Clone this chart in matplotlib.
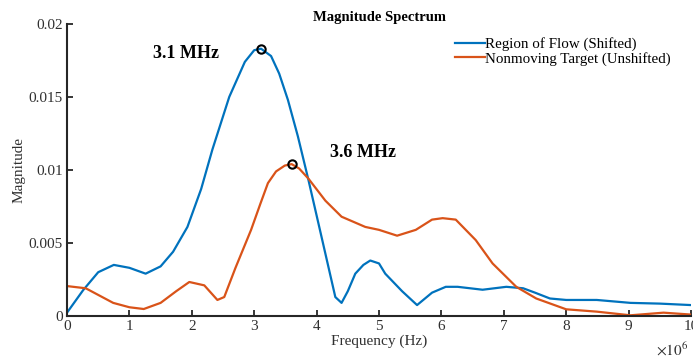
import matplotlib.pyplot as plt
import numpy as np

# частоты (МГц) и амплитуды
freq_flow = [0.0, 0.26, 0.5, 0.75, 1.0, 1.26, 1.5, 1.7, 1.93, 2.15, 2.33, 2.6, 2.85, 3.0, 3.11,
             3.27, 3.4, 3.54, 3.7, 3.87, 4.08, 4.3, 4.4, 4.5, 4.62, 4.75, 4.86, 5.0, 5.1, 5.37,
             5.61, 5.85, 6.07, 6.26, 6.66, 7.04, 7.31, 7.5, 7.74, 8.0, 8.49, 9.03, 9.5, 10.0]
mag_flow = [0.00023, 0.00178, 0.0030, 0.0035, 0.0033, 0.0029, 0.0034, 0.0044, 0.0061, 0.0087,
            0.0114, 0.0150, 0.0174, 0.0182, 0.0183, 0.0178, 0.0166, 0.0148, 0.0123, 0.0093,
            0.0054, 0.0013, 0.0009, 0.0017, 0.0029, 0.0035, 0.0038, 0.0036, 0.0029, 0.0017,
            0.00075, 0.0016, 0.0020, 0.0020, 0.0018, 0.0020, 0.0019, 0.0016, 0.0012, 0.0011,
            0.0011, 0.0009, 0.00085, 0.00075]

freq_static = [0.0, 0.3, 0.74, 1.0, 1.23, 1.5, 1.75, 1.96, 2.2, 2.41, 2.52, 2.7, 2.95, 3.1, 3.22,
               3.35, 3.49, 3.6, 3.72, 3.87, 4.14, 4.4, 4.78, 5.0, 5.29, 5.59, 5.85, 6.02, 6.23,
               6.55, 6.82, 7.2, 7.52, 8.0, 8.49, 9.03, 9.56, 10.0]
mag_static = [0.00205, 0.0019, 0.0009, 0.0006, 0.00048, 0.0009, 0.0017, 0.00233, 0.0021, 0.0011,
              0.0013, 0.0033, 0.0059, 0.0077, 0.0091, 0.0099, 0.0103, 0.0104, 0.0101, 0.0094,
              0.0079, 0.0068, 0.0061, 0.0059, 0.0055, 0.0059, 0.0066, 0.0067, 0.0066, 0.0052,
              0.0036, 0.0020, 0.0012, 0.00046, 0.0003, 0.00005, 0.00023, 0.0001]

peak_flow = (3.11, 0.0183)
peak_static = (3.6, 0.0104)

plt.rcParams['font.family'] = ['Liberation Serif', 'DejaVu Serif']
plt.rcParams['mathtext.fontset'] = 'stix'

fig = plt.figure(figsize=(6.93, 3.62), dpi=100)
ax = fig.add_axes([0.0967, 0.127, 0.9004, 0.807])

blue = '#0072BD'
orange = '#D95319'
txt = '#303030'
ax.plot(freq_flow, mag_flow, color=blue, linewidth=1.6, label='Region of Flow (Shifted)')
ax.plot(freq_static, mag_static, color=orange, linewidth=1.6, label='Nonmoving Target (Unshifted)')

# отметки пиков
ax.plot(*peak_flow, 'o', markersize=6, markerfacecolor='none', markeredgecolor='k', markeredgewidth=1.5)
ax.plot(*peak_static, 'o', markersize=6, markerfacecolor='none', markeredgecolor='k', markeredgewidth=1.5)
ax.text(1.9, 0.0180, '3.1 MHz', fontsize=13, fontweight='bold', ha='center', va='center')
ax.text(4.74, 0.0112, '3.6 MHz', fontsize=13, fontweight='bold', ha='center', va='center')

ax.set_xlim(0, 10)
ax.set_ylim(0, 0.02)
ax.set_xticks(range(0, 11))
ax.set_yticks([0, 0.005, 0.01, 0.015, 0.02])
ax.set_yticklabels(['0', '0.005', '0.01', '0.015', '0.02'])

for side in ['top', 'right']:
    ax.spines[side].set_visible(False)
for side in ['left', 'bottom']:
    ax.spines[side].set_linewidth(1.5)
    ax.spines[side].set_color('#262626')
ax.tick_params(direction='in', length=4, width=1.3, labelsize=11, colors='#262626',
               labelcolor=txt, pad=3)

ax.set_title('Magnitude Spectrum', fontsize=10.5, fontweight='bold', pad=2)
ax.set_xlabel('Frequency (Hz)', fontsize=11, labelpad=1, color=txt)
ax.set_ylabel('Magnitude', fontsize=11, labelpad=2, color=txt)
fig.text(0.993, 0.01, r'$\times10^6$', ha='right', va='bottom', fontsize=11, color=txt)

ax.legend(loc='upper left', bbox_to_anchor=(449 / 693, 1 - 31 / 362), bbox_transform=fig.transFigure,
          frameon=False, fontsize=10.8, handlelength=2.0, handletextpad=0.0,
          labelspacing=0.05, borderaxespad=0.0)

fig.savefig('out.png', dpi=100)
